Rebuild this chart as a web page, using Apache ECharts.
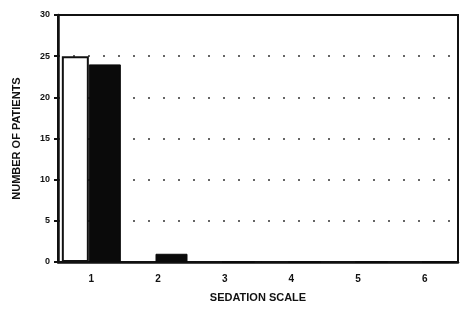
<!DOCTYPE html>
<html><head><meta charset="utf-8">
<script src="https://cdn.jsdelivr.net/npm/echarts@6/dist/echarts.min.js"></script>
<style>html,body{margin:0;padding:0;background:#fff}#c{width:464px;height:312px}</style>
</head><body><div id="c"></div>
<script>
const categories = ['1','2','3','4','5','6'];
const seriesA = [25, 0, 0, 0, 0, 0];
const seriesB = [24, 1, 0, 0, 0, 0];
const yTicks = [0, 5, 10, 15, 20, 25, 30];

const chart = echarts.init(document.getElementById('c'));
chart.setOption({
  animation: false,
  backgroundColor: '#fff',
  grid: {left: 58, right: 6, top: 15, bottom: 50, show: true, borderColor: '#111', borderWidth: 2},
  xAxis: {
    type: 'category', data: categories,
    name: 'SEDATION SCALE', nameLocation: 'middle', nameGap: 30,
    nameTextStyle: {fontFamily: 'Liberation Sans', fontWeight: 'bold', fontSize: 11, color: '#111'},
    axisLine: {lineStyle: {color: '#111', width: 2.5}},
    axisTick: {show: false},
    axisLabel: {fontFamily: 'Liberation Sans', fontWeight: 'bold', fontSize: 10, color: '#111', margin: 12}
  },
  yAxis: {
    type: 'value', min: 0, max: 30, interval: 5,
    name: 'NUMBER OF PATIENTS', nameLocation: 'middle', nameGap: 36, nameRotate: 90,
    nameTextStyle: {fontFamily: 'Liberation Sans', fontWeight: 'bold', fontSize: 11, color: '#111'},
    axisLine: {show: true, lineStyle: {color: '#111', width: 2.5}},
    axisTick: {show: true, length: 4, lineStyle: {color: '#111', width: 2}},
    axisLabel: {fontFamily: 'Liberation Sans', fontWeight: 'bold', fontSize: 9, color: '#111', margin: 8,
      formatter: v => yTicks.includes(v) ? String(v) : ''},
    splitLine: {show: true, showMinLine: false, showMaxLine: false, lineStyle: {color: '#666', type: [2, 13], width: 2}}
  },
  series: [
    {type: 'bar', data: seriesA, barWidth: 27, barGap: '0%',
     itemStyle: {color: '#fff', borderColor: '#111', borderWidth: 2}},
    {type: 'bar', data: seriesB, barWidth: 32,
     itemStyle: {color: '#0a0a0a', borderColor: '#0a0a0a', borderWidth: 1}}
  ]
});
</script></body></html>
